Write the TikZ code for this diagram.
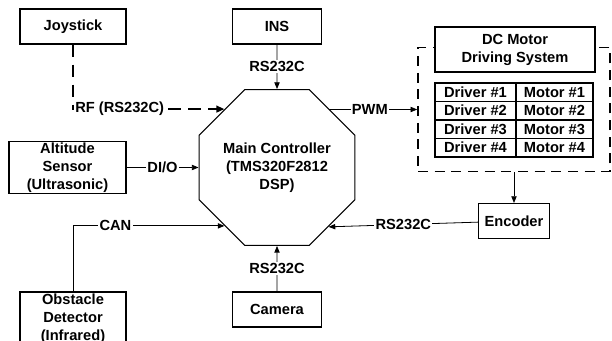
\documentclass[tikz,border=0pt]{standalone}
\usepackage{fontspec}
\setmainfont{Liberation Sans}
\usetikzlibrary{shapes.geometric, arrows.meta, positioning}

\newcommand{\diagfont}{\fontsize{11}{13.5}\selectfont\bfseries}

\begin{document}
\begin{tikzpicture}[
    x=0.75pt, y=-0.75pt,
    block/.style={rectangle, draw, fill=white, align=center, font=\diagfont, line width=0.8pt, inner sep=0.5pt},
    ctrlblock/.style={regular polygon, regular polygon sides=8, minimum size=115.3pt, draw, align=center, font=\diagfont, line width=0.8pt, inner sep=1pt},
    cell/.style={rectangle, draw, minimum height=13.875pt, inner sep=0pt, font=\diagfont, line width=0.8pt},
    encl/.style={rectangle, draw, line width=1.2pt, dash pattern=on 7.5pt off 5pt, minimum width=144pt, minimum height=93pt},
    arrow/.style={-{Triangle[length=5pt, width=4pt]}, line width=0.6pt},
    darrow/.style={-{Triangle[length=6pt, width=5pt]}, line width=1.4pt, dash pattern=on 9.5pt off 5.5pt},
    lbl/.style={fill=white, inner sep=1pt, font=\diagfont},
]
    \useasboundingbox (0,0) rectangle (612,341);
    \clip (0,0) rectangle (612,341);

    % Main controller (centre)
    \node[ctrlblock] (ctrl) at (277,167.5) {Main Controller\\(TMS320F2812\\DSP)};

    % Sensors and inputs
    \node[block, minimum width=79.5pt, minimum height=26.25pt] (joystick) at (73,26.5) {Joystick};
    \node[block, minimum width=66.75pt, minimum height=26.25pt] (ins) at (277,26.5) {INS};
    \node[block, minimum width=87.75pt, minimum height=39pt] (altitude) at (67.5,167.5) {Altitude\\Sensor\\(Ultrasonic)};
    \node[block, minimum width=79.5pt, minimum height=39.75pt] (obstacle) at (73,318.5) {Obstacle\\Detector\\(Infrared)};
    \node[block, minimum width=66.75pt, minimum height=26.25pt] (camera) at (277,309.5) {Camera};

    % DC motor driving system
    \node[encl] (drvsys) at (514,109.5) {};
    \node[block, minimum width=120pt, minimum height=33.75pt] (dcmotor) at (515,49.5) {DC Motor\\Driving System};
    \foreach \i in {1,...,4} {
        \node[cell, minimum width=60.75pt] (driver\i) at (475.5,73.75+18.5*\i) {Driver \#\i};
        \node[cell, minimum width=57.75pt] (motor\i) at (554.5,73.75+18.5*\i) {Motor \#\i};
    }
    \node[block, minimum width=53.25pt, minimum height=26.25pt] (encoder) at (514,221) {Encoder};

    % Connections into the controller
    \draw[darrow] (joystick) |- (ctrl.132) node[pos=0.5, anchor=west, lbl] {RF (RS232C)};
    \draw[arrow] (ins) -- (ctrl) node[midway, lbl] {RS232C};
    \draw[arrow] (altitude) -- (ctrl) node[midway, lbl] {DI/O};
    \draw[arrow] (obstacle) |- (ctrl.-132) node[pos=0.64, lbl] {CAN};
    \draw[arrow] (camera) -- (ctrl) node[midway, lbl] {RS232C};
    \draw[arrow] (encoder) -- (ctrl.-49) node[midway, lbl] {RS232C};

    % Motor side
    \draw[arrow] (ctrl.48) |- (drvsys) node[pos=0.73, lbl] {PWM};
    \draw[arrow] (drvsys) -- (encoder);
\end{tikzpicture}
\end{document}
